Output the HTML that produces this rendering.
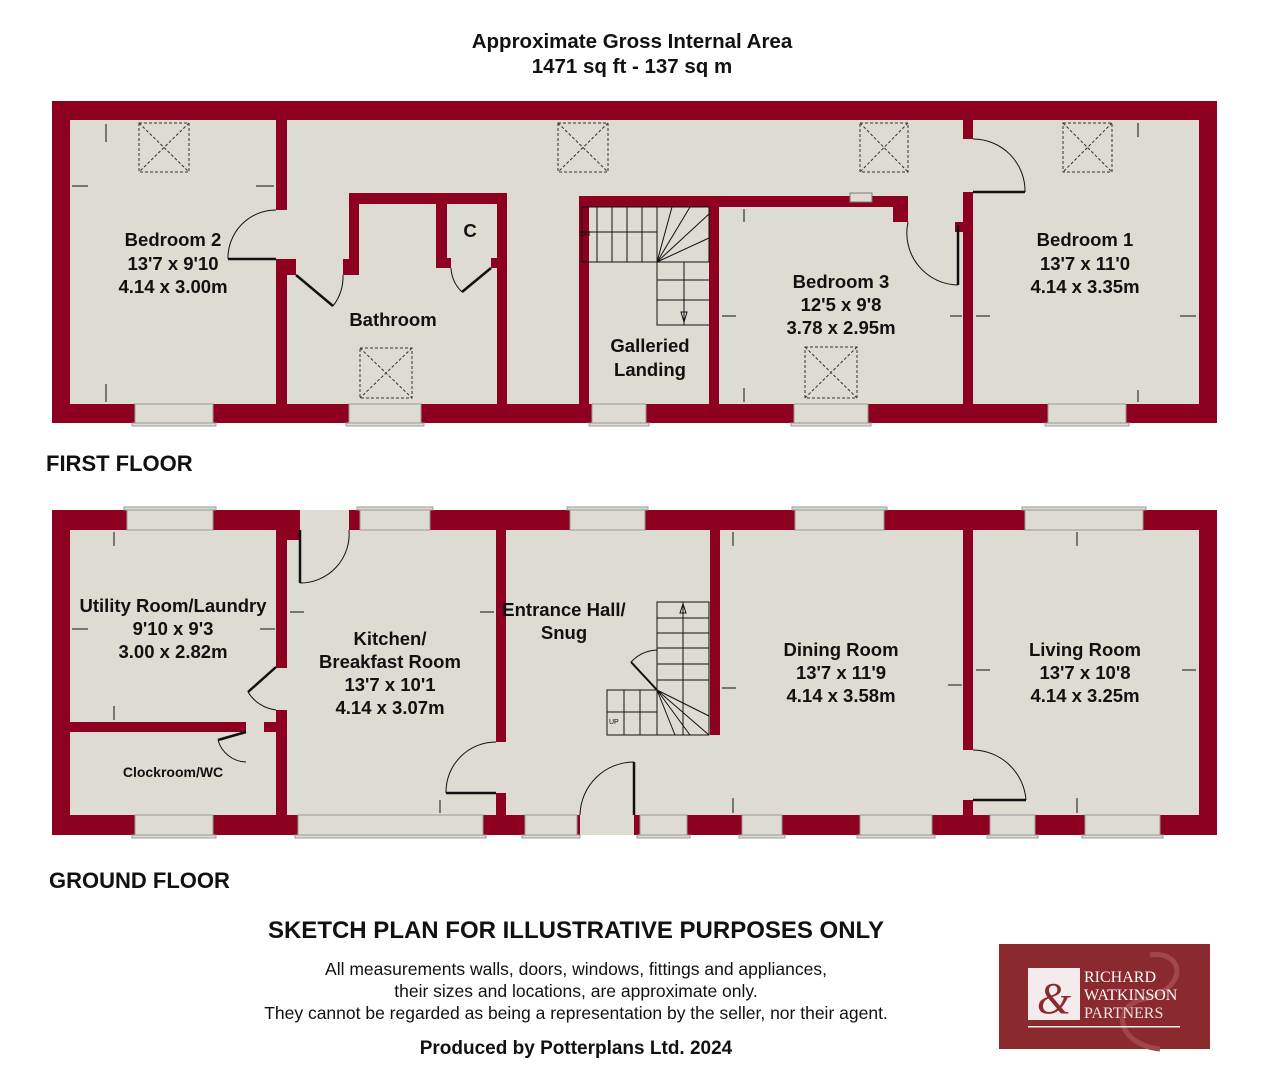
<!DOCTYPE html>
<html><head><meta charset="utf-8"><style>
body{margin:0;background:#fff;width:1264px;height:1080px;overflow:hidden}
svg{display:block}
text{font-family:"Liberation Sans",Arial,sans-serif;font-weight:bold;fill:#111}
text.n{font-weight:normal}
.w{fill:#8e0020}.f{fill:#dedbd3}
.win{fill:#dedbd3;stroke:#999;stroke-width:1}
.sk{fill:none;stroke:#333;stroke-width:1;stroke-dasharray:3,2}
.l{stroke:#111;stroke-width:1;fill:none}
.d{stroke:#111;stroke-width:2.5}
.a{stroke:#111;stroke-width:1;fill:none}
.r{font-size:18.5px}
</style></head><body>
<svg width="1264" height="1080" viewBox="0 0 1264 1080">
<text x="632" y="48" font-size="20.5" text-anchor="middle">Approximate Gross Internal Area</text>
<text x="632" y="73" font-size="20.5" text-anchor="middle">1471 sq ft - 137 sq m</text>

<rect class="w" x="52" y="101" width="1165" height="322"/>
<rect class="f" x="70" y="120" width="1129" height="284"/>
<g class="w">
<rect x="276" y="120" width="11" height="90"/><rect x="276" y="259" width="11" height="145"/>
<rect x="287" y="259" width="9" height="16"/>
<rect x="349" y="193" width="158" height="11"/>
<rect x="349" y="193" width="10" height="82"/><rect x="343" y="259" width="16" height="16"/>
<rect x="497" y="193" width="10" height="211"/><rect x="491" y="258" width="6" height="10"/>
<rect x="436" y="204" width="11" height="64"/><rect x="447" y="258" width="4" height="10"/>
<rect x="579" y="196" width="10" height="208"/>
<rect x="579" y="196" width="329" height="11"/>
<rect x="709" y="207" width="10" height="197"/>
<rect x="893" y="196" width="15" height="26"/>
<rect x="963" y="120" width="10" height="19"/><rect x="963" y="192" width="10" height="212"/>
<rect x="955" y="222" width="8" height="10"/>
</g>
<rect x="850" y="193" width="22" height="9" fill="#dedbd3" stroke="#777"/>
<path class="d" d="M228 259H276"/><path class="a" d="M228 259A48 48 0 0 1 276 210"/>
<path class="d" d="M296 275L333 306"/><path class="a" d="M333 306A48 48 0 0 0 343 275"/>
<path class="d" d="M462 292L491 268"/><path class="a" d="M462 292A36 36 0 0 1 451 268"/>
<path class="d" d="M958 225V285"/><path class="a" d="M958 285A52 52 0 0 1 908 222"/>
<path class="d" d="M973 192H1025"/><path class="a" d="M1025 192A52 52 0 0 0 973 139"/>
<g class="l">
<rect x="582" y="207" width="127" height="55"/>
<path d="M597 207V262M612 207V262M627 207V262M642 207V262M657 207V262M582 232H657"/>
<path d="M657 207V325H709M657 262H709M657 280H709M657 300H709M684 262V325"/>
<path d="M657 262L672 207M657 262L690 207M657 262L709 214M657 262L709 238"/>
<path d="M681 312L684 322L687 312Z"/>
</g>
<text class="n" x="580" y="236" font-size="7">DN</text>
<g>
<rect class="sk" x="139" y="123" width="50" height="49"/><path class="sk" d="M139 123L189 172M189 123L139 172"/>
<rect class="sk" x="558" y="123" width="50" height="49"/><path class="sk" d="M558 123L608 172M608 123L558 172"/>
<rect class="sk" x="860" y="123" width="48" height="49"/><path class="sk" d="M860 123L908 172M908 123L860 172"/>
<rect class="sk" x="1063" y="123" width="49" height="49"/><path class="sk" d="M1063 123L1112 172M1112 123L1063 172"/>
<rect class="sk" x="360" y="348" width="52" height="50"/><path class="sk" d="M360 348L412 398M412 348L360 398"/>
<rect class="sk" x="805" y="347" width="52" height="51"/><path class="sk" d="M805 347L857 398M857 347L805 398"/>
</g>
<g>
<rect class="win" x="135" y="404" width="78" height="19"/><rect class="win" x="132" y="423" width="84" height="3"/>
<rect class="win" x="349" y="404" width="72" height="19"/><rect class="win" x="346" y="423" width="78" height="3"/>
<rect class="win" x="592" y="404" width="54" height="19"/><rect class="win" x="589" y="423" width="60" height="3"/>
<rect class="win" x="794" y="404" width="74" height="19"/><rect class="win" x="791" y="423" width="80" height="3"/>
<rect class="win" x="1048" y="404" width="78" height="19"/><rect class="win" x="1045" y="423" width="84" height="3"/>
</g>
<g class="a">
<path d="M106 124V142M106 384V402M72 186H88M256 186H274"/>
<path d="M744 209V222M744 388V402M722 316H736M950 316H962"/>
<path d="M1138 123V137M1138 390V402M976 316H990M1180 316H1196"/>
</g>
<text class="r" x="173" y="246" text-anchor="middle">Bedroom 2</text>
<text class="r" x="173" y="270" text-anchor="middle">13'7 x 9'10</text>
<text class="r" x="173" y="293" text-anchor="middle">4.14 x 3.00m</text>
<text class="r" x="470" y="237" text-anchor="middle">C</text>
<text class="r" x="393" y="326" text-anchor="middle">Bathroom</text>
<text class="r" x="650" y="352" text-anchor="middle">Galleried</text>
<text class="r" x="650" y="376" text-anchor="middle">Landing</text>
<text class="r" x="841" y="288" text-anchor="middle">Bedroom 3</text>
<text class="r" x="841" y="311" text-anchor="middle">12'5 x 9'8</text>
<text class="r" x="841" y="334" text-anchor="middle">3.78 x 2.95m</text>
<text class="r" x="1085" y="246" text-anchor="middle">Bedroom 1</text>
<text class="r" x="1085" y="270" text-anchor="middle">13'7 x 11'0</text>
<text class="r" x="1085" y="293" text-anchor="middle">4.14 x 3.35m</text>
<text x="46" y="471" font-size="22">FIRST FLOOR</text>

<rect class="w" x="52" y="510" width="1165" height="325"/>
<rect class="f" x="70" y="530" width="1129" height="285"/>
<rect class="f" x="300" y="510" width="49" height="20"/>
<rect class="f" x="580" y="815" width="54" height="20"/>
<g class="w">
<rect x="276" y="530" width="11" height="138"/><rect x="276" y="710" width="11" height="105"/>
<rect x="70" y="722" width="176" height="10"/><rect x="264" y="722" width="12" height="10"/>
<rect x="287" y="530" width="13" height="10"/>
<rect x="496" y="530" width="10" height="212"/><rect x="496" y="793" width="10" height="22"/>
<rect x="710" y="530" width="10" height="205"/>
<rect x="963" y="530" width="10" height="220"/><rect x="963" y="800" width="10" height="15"/>
</g>
<path class="d" d="M248 692L276 667"/><path class="a" d="M248 692A38 38 0 0 0 276 710"/>
<path class="d" d="M218 740L246 732"/><path class="a" d="M218 740A30 30 0 0 0 246 762"/>
<path class="d" d="M300 530V583"/><path class="a" d="M300 583A49 49 0 0 0 349 530"/>
<path class="d" d="M446 793H496"/><path class="a" d="M446 793A50 50 0 0 1 496 742"/>
<path class="d" d="M634 762V815"/><path class="a" d="M580 815A54 54 0 0 1 634 762"/>
<path class="d" d="M973 800H1026"/><path class="a" d="M1026 800A54 54 0 0 0 973 750"/>
<g class="l">
<rect x="657" y="602" width="52" height="133"/>
<path d="M657 618H709M657 633H709M657 648H709M657 664H709M657 680H709M683 602V735"/>
<rect x="607" y="690" width="50" height="45"/><path d="M624 690V735M640 690V735M607 712H657"/>
<path d="M657 690L709 716M657 690L709 735M657 690L690 735M657 690L675 735"/>
<path d="M683 604L680 613L686 613Z"/>
</g>
<path class="d" style="stroke-width:2" d="M631 662L657 690"/><path class="a" d="M631 662A38 38 0 0 1 657 650"/>
<text class="n" x="609" y="724" font-size="7">UP</text>
<g>
<rect class="win" x="127" y="510" width="86" height="20"/><rect class="win" x="124" y="507" width="92" height="3"/>
<rect class="win" x="360" y="510" width="70" height="20"/><rect class="win" x="357" y="507" width="76" height="3"/>
<rect class="win" x="570" y="510" width="75" height="20"/><rect class="win" x="567" y="507" width="81" height="3"/>
<rect class="win" x="795" y="510" width="89" height="20"/><rect class="win" x="792" y="507" width="95" height="3"/>
<rect class="win" x="1025" y="510" width="118" height="20"/><rect class="win" x="1022" y="507" width="124" height="3"/>
<rect class="win" x="135" y="815" width="78" height="20"/><rect class="win" x="132" y="835" width="84" height="3"/>
<rect class="win" x="298" y="815" width="185" height="20"/><rect class="win" x="295" y="835" width="191" height="3"/>
<rect class="win" x="525" y="815" width="52" height="20"/><rect class="win" x="522" y="835" width="58" height="3"/>
<rect class="win" x="640" y="815" width="47" height="20"/><rect class="win" x="637" y="835" width="53" height="3"/>
<rect class="win" x="742" y="815" width="40" height="20"/><rect class="win" x="739" y="835" width="46" height="3"/>
<rect class="win" x="860" y="815" width="72" height="20"/><rect class="win" x="857" y="835" width="78" height="3"/>
<rect class="win" x="990" y="815" width="45" height="20"/><rect class="win" x="987" y="835" width="51" height="3"/>
<rect class="win" x="1085" y="815" width="75" height="20"/><rect class="win" x="1082" y="835" width="81" height="3"/>
</g>
<g class="a">
<path d="M114 532V546M114 706V720M72 629H88M260 629H275"/>
<path d="M440 800V813M290 612H304M480 612H494"/>
<path d="M733 532V546M733 798V813M722 688H736M948 685H962"/>
<path d="M1077 532V546M1077 798V813M976 670H990M1182 670H1196"/>
</g>
<text class="r" x="173" y="612" text-anchor="middle">Utility Room/Laundry</text>
<text class="r" x="173" y="635" text-anchor="middle">9'10 x 9'3</text>
<text class="r" x="173" y="658" text-anchor="middle">3.00 x 2.82m</text>
<text x="173" y="777" font-size="14" text-anchor="middle">Clockroom/WC</text>
<text class="r" x="390" y="645" text-anchor="middle">Kitchen/</text>
<text class="r" x="390" y="668" text-anchor="middle">Breakfast Room</text>
<text class="r" x="390" y="691" text-anchor="middle">13'7 x 10'1</text>
<text class="r" x="390" y="714" text-anchor="middle">4.14 x 3.07m</text>
<text class="r" x="564" y="616" text-anchor="middle">Entrance Hall/</text>
<text class="r" x="564" y="639" text-anchor="middle">Snug</text>
<text class="r" x="841" y="656" text-anchor="middle">Dining Room</text>
<text class="r" x="841" y="679" text-anchor="middle">13'7 x 11'9</text>
<text class="r" x="841" y="702" text-anchor="middle">4.14 x 3.58m</text>
<text class="r" x="1085" y="656" text-anchor="middle">Living Room</text>
<text class="r" x="1085" y="679" text-anchor="middle">13'7 x 10'8</text>
<text class="r" x="1085" y="702" text-anchor="middle">4.14 x 3.25m</text>
<text x="49" y="888" font-size="22">GROUND FLOOR</text>

<text x="576" y="938" font-size="24" text-anchor="middle">SKETCH PLAN FOR ILLUSTRATIVE PURPOSES ONLY</text>
<text class="n" x="576" y="975" font-size="17.5" text-anchor="middle">All measurements walls, doors, windows, fittings and appliances,</text>
<text class="n" x="576" y="997" font-size="17.5" text-anchor="middle">their sizes and locations, are approximate only.</text>
<text class="n" x="576" y="1019" font-size="17.5" text-anchor="middle">They cannot be regarded as being a representation by the seller, nor their agent.</text>
<text x="576" y="1054" font-size="19" text-anchor="middle">Produced by Potterplans Ltd. 2024</text>

<rect x="999" y="944" width="211" height="105" fill="#8a2a2e"/>
<path d="M1150 955C1185 950 1190 990 1140 1000C1110 1010 1120 1045 1160 1049" stroke="#a1474b" stroke-width="5" fill="none"/>
<rect x="1028" y="968" width="52" height="52" fill="#f4ecec"/>
<text class="n" x="1054" y="1013" font-size="44" text-anchor="middle" style="fill:#8a2a2e;font-family:'Liberation Serif',serif;font-style:italic">&amp;</text>
<text class="n" x="1084" y="982" font-size="16" style="fill:#fff;font-family:'Liberation Serif',serif">RICHARD</text>
<text class="n" x="1084" y="1000" font-size="16" style="fill:#fff;font-family:'Liberation Serif',serif">WATKINSON</text>
<text class="n" x="1084" y="1018" font-size="16" style="fill:#f0e0e0;font-family:'Liberation Serif',serif">PARTNERS</text>
<rect x="1028" y="1026" width="152" height="1.5" fill="#f4ecec"/>
</svg>
</body></html>
